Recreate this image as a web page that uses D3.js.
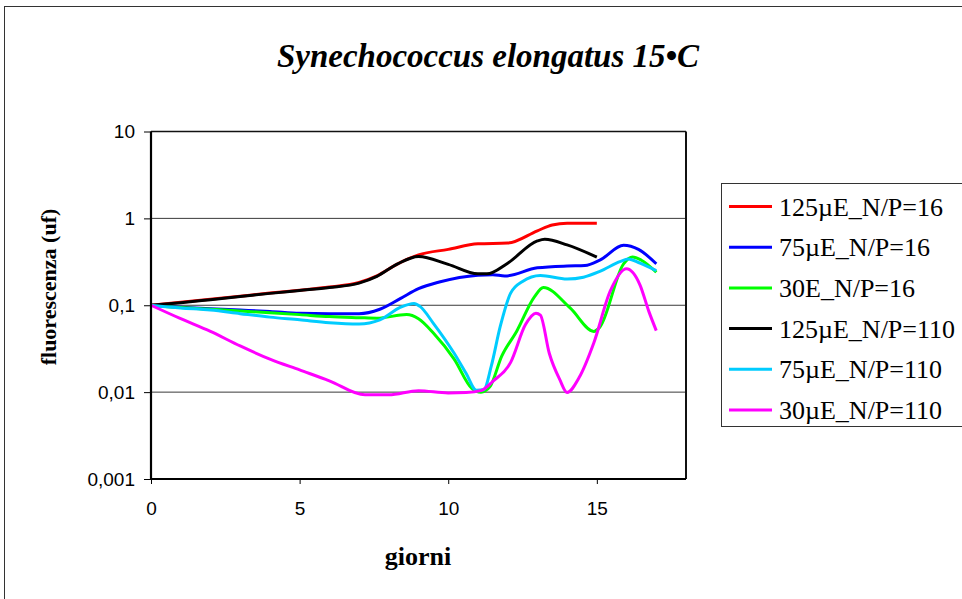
<!DOCTYPE html>
<html>
<head>
<meta charset="utf-8">
<script src="https://cdn.jsdelivr.net/npm/d3@7"></script>
<style>
  html, body { margin: 0; padding: 0; background: #fff; }
  svg { display: block; }
</style>
</head>
<body>
<svg id="chart" width="962" height="599"></svg>
<script>
// Series: [giorno, fluorescenza (uf)]
const seriesNames = ["125µE_N/P=16", "75µE_N/P=16", "30E_N/P=16", "125µE_N/P=110", "75µE_N/P=110", "30µE_N/P=110"];
const seriesColors = ["#ff0000", "#0000ff", "#00ff00", "#000000", "#00ccff", "#ff00ff"];

const s125_16 = [[0,0.1],[1,0.108],[2,0.117],[3,0.127],[4,0.138],[5,0.149],[6,0.162],[7,0.183],[7.6,0.218],[8.3,0.3],[9,0.38],[10,0.44],[11,0.51],[12,0.52],[13,0.72],[13.5,0.84],[14,0.88],[15,0.88]];
const s75_16 = [[0,0.1],[1,0.095],[2,0.091],[3,0.088],[4,0.085],[5,0.081],[6,0.08],[7,0.08],[7.7,0.09],[8.4,0.12],[9,0.155],[9.7,0.185],[11,0.222],[11.5,0.225],[11.9,0.217],[13,0.27],[14,0.283],[14.6,0.286],[15.1,0.33],[15.9,0.49],[16.4,0.44],[17,0.3]];
const s30_16 = [[0,0.1],[1,0.094],[2,0.09],[3,0.086],[4,0.082],[5,0.078],[6,0.074],[7,0.072],[7.6,0.071],[8.6,0.078],[9,0.07],[9.5,0.048],[10.2,0.024],[10.8,0.011],[11.1,0.01],[11.4,0.0115],[11.8,0.026],[12.3,0.05],[12.9,0.125],[13.2,0.16],[14.1,0.093],[14.9,0.05],[15.1,0.056],[15.9,0.3],[16.2,0.36],[16.5,0.33],[17,0.24]];
const s125_110 = [[0,0.1],[1,0.107],[2,0.116],[3,0.126],[4,0.137],[5,0.148],[6,0.16],[7,0.18],[7.6,0.215],[8.3,0.3],[9,0.365],[10,0.295],[11,0.23],[11.3,0.23],[12,0.305],[13,0.55],[13.25,0.575],[14,0.495],[15,0.358]];
const s75_110 = [[0,0.1],[1,0.093],[2,0.088],[3,0.08],[4,0.073],[5,0.068],[6,0.063],[7,0.061],[7.7,0.068],[8.4,0.095],[8.85,0.105],[9.05,0.097],[9.5,0.062],[10.2,0.028],[10.6,0.0165],[10.95,0.0105],[11.2,0.0107],[11.45,0.02],[11.75,0.057],[12.1,0.138],[12.5,0.188],[13.1,0.22],[14,0.2],[14.55,0.21],[15.1,0.245],[15.8,0.32],[16.05,0.34],[16.45,0.305],[17,0.25]];
const s30_110 = [[0,0.1],[1,0.07],[2,0.05],[3,0.034],[4,0.024],[5,0.018],[6,0.0135],[7.2,0.0093],[8,0.0093],[9,0.0104],[10,0.0098],[10.6,0.0099],[11.1,0.0104],[11.5,0.0133],[12.1,0.022],[12.6,0.06],[12.95,0.081],[13.1,0.077],[13.4,0.028],[13.75,0.014],[14,0.0099],[14.4,0.0146],[14.9,0.037],[15.45,0.145],[16,0.263],[16.45,0.172],[16.75,0.085],[17,0.051]];

const seriesData = [s125_16, s75_16, s30_16, s125_110, s75_110, s30_110];

const xTicks = [0, 5, 10, 15];
const yTicks = [0.001, 0.01, 0.1, 1, 10];
const yTickLabels = ["0,001", "0,01", "0,1", "1", "10"];

const titleText = "Synechococcus elongatus 15•C";
const xTitle = "giorni";
const yTitle = "fluorescenza (uf)";

// ---- layout ----
const svg = d3.select("#chart");
const plot = { left: 151, top: 131.5, right: 686, bottom: 479 };
const serif = "'Liberation Serif', 'Times New Roman', serif";
const sans = "'Liberation Sans', Arial, sans-serif";

const x = d3.scaleLinear().domain([0, 18]).range([plot.left, plot.right]);
const y = d3.scaleLog().domain([0.001, 10]).range([plot.bottom, plot.top]);

// outer chart frame
svg.append("rect")
  .attr("x", 4.5).attr("y", 6.5)
  .attr("width", 1000).attr("height", 700)
  .attr("fill", "#fff").attr("stroke", "#333").attr("stroke-width", 1);

// title
svg.append("text")
  .attr("x", 488).attr("y", 67)
  .attr("text-anchor", "middle")
  .attr("font-family", serif)
  .attr("font-style", "italic").attr("font-weight", "bold")
  .attr("font-size", 33)
  .text(titleText);

// gridlines
svg.append("g").selectAll("line")
  .data([0.01, 0.1, 1])
  .join("line")
  .attr("x1", plot.left).attr("x2", plot.right)
  .attr("y1", d => y(d)).attr("y2", d => y(d))
  .attr("stroke", "#3a3a3a").attr("stroke-width", 1);

// plot frame: top and right edges
svg.append("line")
  .attr("x1", plot.left).attr("x2", plot.right)
  .attr("y1", plot.top).attr("y2", plot.top)
  .attr("stroke", "#111").attr("stroke-width", 1.3);
svg.append("line")
  .attr("x1", plot.right).attr("x2", plot.right)
  .attr("y1", plot.top).attr("y2", plot.bottom)
  .attr("stroke", "#111").attr("stroke-width", 2);

// series lines
const line = d3.line()
  .x(d => x(d[0]))
  .y(d => y(d[1]))
  .curve(d3.curveMonotoneX);

svg.append("g").selectAll("path")
  .data(seriesData)
  .join("path")
  .attr("d", line)
  .attr("fill", "none")
  .attr("stroke", (d, i) => seriesColors[i])
  .attr("stroke-width", 3)
  .attr("stroke-linejoin", "round");

// axes
const xAxis = d3.axisBottom(x).tickValues(xTicks).tickSize(5).tickPadding(18).tickFormat(d3.format("d"));
const yAxis = d3.axisLeft(y).tickValues(yTicks).tickSize(7).tickPadding(9)
  .tickFormat((d, i) => yTickLabels[i]);

const gx = svg.append("g").attr("transform", `translate(0,${plot.bottom})`).call(xAxis);
const gy = svg.append("g").attr("transform", `translate(${plot.left},0)`).call(yAxis);

[gx, gy].forEach(g => {
  g.select(".domain").attr("stroke", "#000").attr("stroke-width", 2.2);
  g.selectAll(".tick line").attr("stroke", "#000").attr("stroke-width", 1);
  g.selectAll(".tick text")
    .attr("font-family", sans)
    .attr("font-size", 19)
    .attr("fill", "#000");
});
gx.select(".domain").attr("d", `M${plot.left},0H${plot.right}`);
gy.select(".domain").attr("d", `M0,${plot.bottom}V${plot.top}`);

// axis titles
svg.append("text")
  .attr("x", 418).attr("y", 565)
  .attr("text-anchor", "middle")
  .attr("font-family", serif)
  .attr("font-weight", "bold").attr("font-size", 26)
  .text(xTitle);

svg.append("text")
  .attr("transform", "translate(56,287) rotate(-90)")
  .attr("text-anchor", "middle")
  .attr("font-family", serif)
  .attr("font-weight", "bold").attr("font-size", 22)
  .text(yTitle);

// legend
const legend = svg.append("g");
legend.append("rect")
  .attr("x", 721.5).attr("y", 183.5)
  .attr("width", 300).attr("height", 243)
  .attr("fill", "#fff").attr("stroke", "#333").attr("stroke-width", 1);

const rows = legend.selectAll("g.row")
  .data(seriesNames)
  .join("g")
  .attr("class", "row")
  .attr("transform", (d, i) => `translate(0,${206.5 + i * 40.7})`);

rows.append("line")
  .attr("x1", 729).attr("x2", 772)
  .attr("y1", 0).attr("y2", 0)
  .attr("stroke", (d, i) => seriesColors[i])
  .attr("stroke-width", 3);

rows.append("text")
  .attr("x", 779).attr("y", 9)
  .attr("font-family", serif)
  .attr("font-size", 26)
  .text(d => d);
</script>
</body>
</html>
